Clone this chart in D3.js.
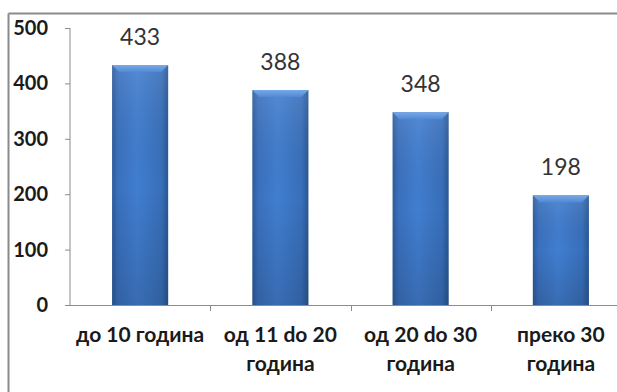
<!DOCTYPE html>
<html>
<head>
<meta charset="utf-8">
<script src="https://cdn.jsdelivr.net/npm/d3@7"></script>
<style>
  html, body { margin: 0; padding: 0; background: #fff; }
  svg { display: block; }
</style>
</head>
<body>
<div id="chart"></div>
<script>
// Number of people by years of service
const categories = [["до 10 година"], ["од 11 do 20", "година"], ["од 20 do 30", "година"], ["преко 30", "година"]];
const values = [433, 388, 348, 198];
const yTicks = [0, 100, 200, 300, 400, 500];

const W = 617, H = 392;
const svg = d3.select("#chart").append("svg").attr("width", W).attr("height", H);
const font = "Lato, 'Open Sans', sans-serif";

// outer chart frame (top and left edges visible)
svg.append("line").attr("x1", 8.5).attr("x2", W).attr("y1", 13.5).attr("y2", 13.5)
  .attr("stroke", "#8a8a8a").attr("stroke-width", 2);
svg.append("line").attr("x1", 8.5).attr("x2", 8.5).attr("y1", 13.5).attr("y2", H)
  .attr("stroke", "#8a8a8a").attr("stroke-width", 2);

const x0 = 70, plotW = 561;
const x = d3.scaleBand().domain(d3.range(values.length)).range([x0, x0 + plotW])
  .paddingInner(0.6).paddingOuter(0.3);
const y = d3.scaleLinear().domain([0, 500]).range([305, 28]);

// gradients
const defs = svg.append("defs");
const g = defs.append("linearGradient").attr("id", "barGrad").attr("x1", 0).attr("x2", 1).attr("y1", 0).attr("y2", 0);
[[0, "#2b5b9a"], [0.1, "#3a70bd"], [0.45, "#417ed0"], [0.88, "#386fba"], [1, "#295792"]]
  .forEach(([o, c]) => g.append("stop").attr("offset", o).attr("stop-color", c));
const gv = defs.append("linearGradient").attr("id", "shadeGrad").attr("x1", 0).attr("x2", 0).attr("y1", 0).attr("y2", 1);
[[0, "#ffffff", 0.1], [0.5, "#000000", 0], [1, "#000000", 0.14]]
  .forEach(([o, c, a]) => gv.append("stop").attr("offset", o).attr("stop-color", c).attr("stop-opacity", a));
const gt = defs.append("linearGradient").attr("id", "topGrad").attr("x1", 0).attr("x2", 0).attr("y1", 0).attr("y2", 1);
[[0, "#78a9e6"], [1, "#4f89d6"]].forEach(([o, c]) => gt.append("stop").attr("offset", o).attr("stop-color", c));

// y axis
const axisColor = "#8c8c8c";
const yAxis = svg.append("g").attr("transform", `translate(${x0},0)`)
  .call(d3.axisLeft(y).tickValues(yTicks).tickSize(5).tickPadding(17));
yAxis.select(".domain").attr("stroke", axisColor).attr("d", `M0,${y(500)}V${y(0)}`);
yAxis.selectAll(".tick line").attr("stroke", axisColor);
yAxis.selectAll(".tick text").attr("fill", "#1a1a1a").attr("font-family", font)
  .attr("font-weight", "bold").attr("font-size", 20);

// x axis line with boundary ticks
const xAxisG = svg.append("g");
xAxisG.append("line").attr("x1", x0 - 5).attr("x2", W).attr("y1", y(0) + 0.5).attr("y2", y(0) + 0.5)
  .attr("stroke", axisColor);
d3.range(1, values.length + 1).forEach(i => {
  const bx = Math.round(x0 + x.step() * i) + 0.5;
  xAxisG.append("line").attr("x1", bx).attr("x2", bx).attr("y1", y(0)).attr("y2", y(0) + 6).attr("stroke", axisColor);
});

// bars
const bars = svg.append("g").selectAll("g").data(values).join("g");
bars.append("rect")
  .attr("x", (d, i) => x(i)).attr("width", x.bandwidth())
  .attr("y", d => y(d)).attr("height", d => y(0) - y(d))
  .attr("fill", "url(#barGrad)");
bars.append("rect")
  .attr("x", (d, i) => x(i)).attr("width", x.bandwidth())
  .attr("y", d => y(d)).attr("height", d => y(0) - y(d))
  .attr("fill", "url(#shadeGrad)");
// bevelled top
const bev = 7;
bars.append("path")
  .attr("d", (d, i) => {
    const l = x(i), r = x(i) + x.bandwidth(), t = y(d);
    return `M${l},${t}L${r},${t}L${r - bev},${t + bev}L${l + bev},${t + bev}Z`;
  })
  .attr("fill", "url(#topGrad)");

// value labels
svg.append("g").selectAll("text").data(values).join("text")
  .attr("x", (d, i) => x(i) + x.bandwidth() / 2)
  .attr("y", d => y(d) - 20)
  .attr("text-anchor", "middle")
  .attr("font-family", font).attr("font-size", 23).attr("fill", "#333")
  .text(d => d);

// category labels
const cat = svg.append("g").selectAll("text").data(categories).join("text")
  .attr("x", (d, i) => x(i) + x.bandwidth() / 2)
  .attr("y", 342)
  .attr("text-anchor", "middle")
  .attr("font-family", font).attr("font-weight", "bold").attr("font-size", 21).attr("fill", "#1a1a1a");
cat.selectAll("tspan").data(d => d).join("tspan")
  .attr("x", function () { return this.parentNode.getAttribute("x"); })
  .attr("dy", (d, j) => j === 0 ? 0 : 29)
  .text(d => d);
</script>
</body>
</html>
